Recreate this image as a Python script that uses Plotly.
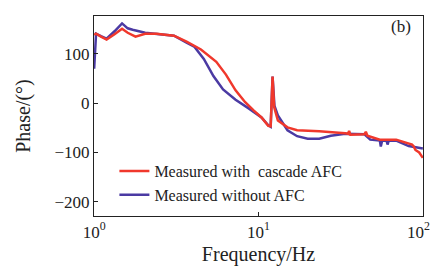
import plotly.graph_objects as go

# Frequency (Hz) and phase (deg)
freq_with = [1.0, 1.027, 1.10, 1.19, 1.33, 1.478, 1.60, 1.785, 2.043, 2.4, 2.7, 3.06, 3.65,
             4.464, 5.537, 6.337, 7.252, 8.297, 9.369, 10.43, 11.47, 11.86, 12.18, 12.45,
             13.12, 15.01, 17.18, 23.42, 33.71, 35.1, 35.6, 36.2, 44.13, 45.0, 46.0,
             54.75, 68.84, 82.03, 86.0, 88.0, 90.15, 95.0, 100.0]
phase_with = [139, 141, 135, 129, 140, 151, 143, 135, 141, 141, 139, 137, 125,
              109, 84, 58, 26, 2, -15, -29, -46, -47, 54, -8,
              -35, -49, -55, -57, -61, -62, -56, -64, -63, -58, -66,
              -74, -74, -81, -84, -88, -95, -100, -111]

freq_without = [1.0, 1.027, 1.10, 1.19, 1.33, 1.478, 1.60, 1.714, 2.043, 2.4, 2.7, 3.06,
                3.65, 4.06, 4.648, 5.318, 6.085, 7.252, 8.757, 10.43, 11.47, 11.86, 12.18,
                12.5, 13.12, 15.01, 17.18, 19.93, 23.42, 27.54, 33.71, 44.13, 47.86,
                54.75, 55.5, 56.5, 60.18, 61.0, 62.0, 68.84, 82.03, 100.0]
phase_without = [70, 141, 136, 131, 146, 162, 152, 149, 143, 141, 139, 137,
                 123, 115, 90, 55, 28, 7, -11, -29, -45, -48, 54,
                 -5, -25, -55, -67, -72, -72, -66, -62, -63, -74,
                 -76, -88, -76, -76, -84, -76, -76, -87, -92]

series_names = ["Measured with  cascade AFC", "Measured without AFC"]
series_colors = ["#f0382c", "#4b3aa3"]

x_tickvals = [1, 10, 100]
x_ticktext = ["10<sup>0</sup>", "10<sup>1</sup>", "10<sup>2</sup>\u00a0\u00a0"]
y_tickvals = [-200, -100, 0, 100]

FONT = "Liberation Serif, Times New Roman, serif"
TXT = "#222222"

fig = go.Figure()
fig.add_trace(go.Scatter(x=freq_without, y=phase_without, mode="lines", name=series_names[1],
                         line=dict(color=series_colors[1], width=2.5)))
fig.add_trace(go.Scatter(x=freq_with, y=phase_with, mode="lines", name=series_names[0],
                         line=dict(color=series_colors[0], width=2.5)))

fig.update_layout(
    width=438, height=266,
    margin=dict(l=86, r=10, t=7, b=58),
    paper_bgcolor="white", plot_bgcolor="white",
    font=dict(family=FONT, size=17, color=TXT),
    showlegend=True,
    legend=dict(x=0.062, y=0.165, xanchor="left", yanchor="middle",
                bgcolor="rgba(0,0,0,0)", font=dict(family=FONT, size=16, color=TXT),
                traceorder="reversed", tracegroupgap=0, itemwidth=30),
    annotations=[dict(text="(b)", x=0.97, y=0.95, xref="paper", yref="paper",
                      xanchor="right", yanchor="middle", showarrow=False,
                      font=dict(family=FONT, size=17, color=TXT))],
)
fig.update_xaxes(type="log", range=[-0.001, 2.001], tickvals=x_tickvals, ticktext=x_ticktext,
                 ticks="inside", ticklen=4, tickcolor=TXT, ticklabeloverflow="allow",
                 showline=True, linecolor=TXT, linewidth=1.2, mirror=True,
                 showgrid=False, zeroline=False,
                 title=dict(text="Frequency/Hz", standoff=6))
fig.update_yaxes(range=[-229, 177], tickvals=y_tickvals,
                 ticks="inside", ticklen=4, tickcolor=TXT,
                 showline=True, linecolor=TXT, linewidth=1.2, mirror=True,
                 showgrid=False, zeroline=False,
                 title=dict(text="Phase/(°)", standoff=18))

fig.write_html("out.html")
